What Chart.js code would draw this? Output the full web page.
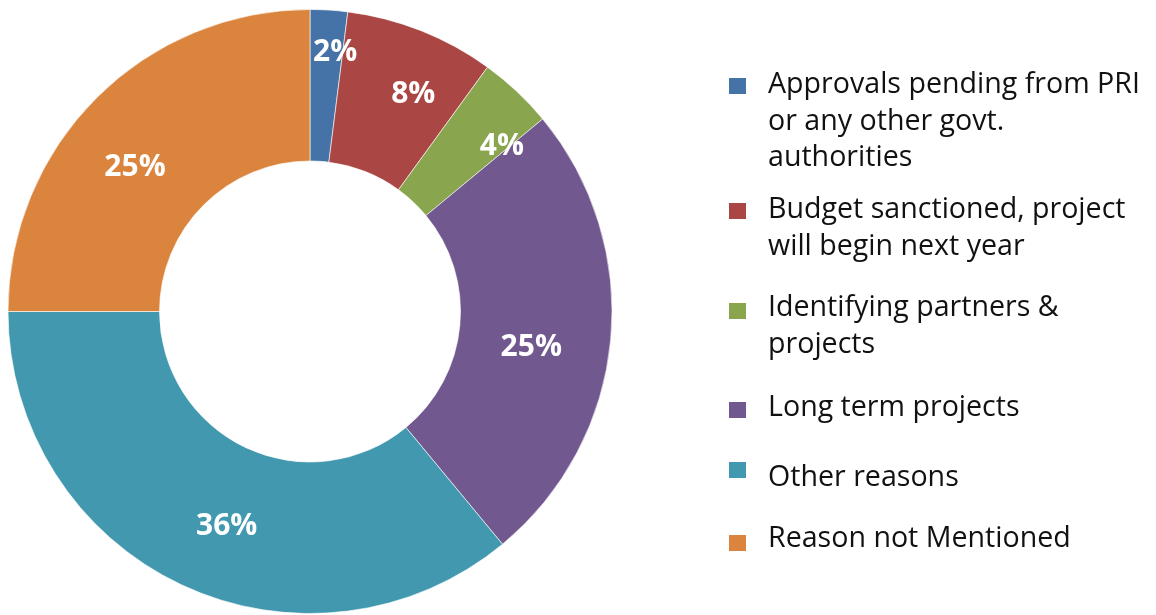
<!DOCTYPE html>
<html>
<head>
<meta charset="utf-8">
<script src="https://cdn.jsdelivr.net/npm/chart.js@4"></script>
<style>
  html, body { margin: 0; padding: 0; background: #fff; }
  #wrap { position: relative; width: 1156px; height: 615px; overflow: hidden; }
  #pie { position: absolute; left: 0; top: 0; }
  #legend { position: absolute; left: 0; top: 0; width: 1156px; height: 615px; pointer-events: none;
            font-family: "Open Sans", sans-serif; font-size: 28.6px; color: #111; }
  .item { position: absolute; left: 768px; line-height: 36.5px; white-space: nowrap; }
  .box { position: absolute; left: 729px; width: 17px; height: 16px; }
</style>
</head>
<body>
<div id="wrap">
  <canvas id="pie" width="1156" height="615"></canvas>
  <div id="legend"></div>
</div>
<script>
const categories = [
  ['Approvals pending from PRI', 'or any other govt.', 'authorities'],
  ['Budget sanctioned, project', 'will begin next year'],
  ['Identifying partners &', 'projects'],
  ['Long term projects'],
  ['Other reasons'],
  ['Reason not Mentioned']
];
const shares = [2, 8, 4, 25, 36, 25];
const colors = ['#4572a7', '#aa4643', '#89a54e', '#71588f', '#4198af', '#db843d'];

// where each legend entry sits (text top, square top)
const legendTop = [64, 189, 287, 387, 457, 518];
const boxTop = [78, 203, 303, 402, 462, 535];

// small shifts so the % labels sit where the report had them
const labelNudge = [[11, -33], [20, -7], [37, 0], [-4, 15], [13, 10], [-15, 16]];

const pctLabels = {
  id: 'pctLabels',
  afterDatasetsDraw(chart) {
    const ctx = chart.ctx;
    const meta = chart.getDatasetMeta(0);
    ctx.save();
    ctx.fillStyle = '#fff';
    ctx.font = 'bold 30px "Open Sans", sans-serif';
    ctx.textAlign = 'center';
    ctx.textBaseline = 'middle';
    meta.data.forEach((arc, i) => {
      const p = arc.getProps(['x', 'y', 'startAngle', 'endAngle', 'innerRadius', 'outerRadius'], true);
      const mid = (p.startAngle + p.endAngle) / 2;
      const r = (p.innerRadius + p.outerRadius) / 2;
      const x = p.x + Math.cos(mid) * r + labelNudge[i][0];
      const y = p.y + Math.sin(mid) * r + labelNudge[i][1];
      ctx.fillText(shares[i] + '%', x, y);
    });
    ctx.restore();
  }
};

const chart = new Chart(document.getElementById('pie'), {
  type: 'doughnut',
  data: {
    labels: categories,
    datasets: [{
      data: shares,
      backgroundColor: colors,
      borderColor: 'rgba(255,255,255,0.6)',
      borderWidth: 1
    }]
  },
  options: {
    responsive: false,
    animation: false,
    cutout: 151,
    radius: 302,
    layout: { padding: { top: 8, right: 536, left: 0, bottom: 0 } },
    plugins: {
      legend: { display: false },
      tooltip: { enabled: false }
    }
  },
  plugins: [pctLabels]
});

// html legend built from the chart's own labels
const legend = document.getElementById('legend');
chart.data.labels.forEach((lines, i) => {
  const box = document.createElement('div');
  box.className = 'box';
  box.style.top = boxTop[i] + 'px';
  box.style.background = colors[i];
  legend.appendChild(box);
  const txt = document.createElement('div');
  txt.className = 'item';
  txt.style.top = legendTop[i] + 'px';
  txt.innerHTML = lines.map(l => l.replace(/&/g, '&amp;')).join('<br>');
  legend.appendChild(txt);
});
</script>
</body>
</html>
